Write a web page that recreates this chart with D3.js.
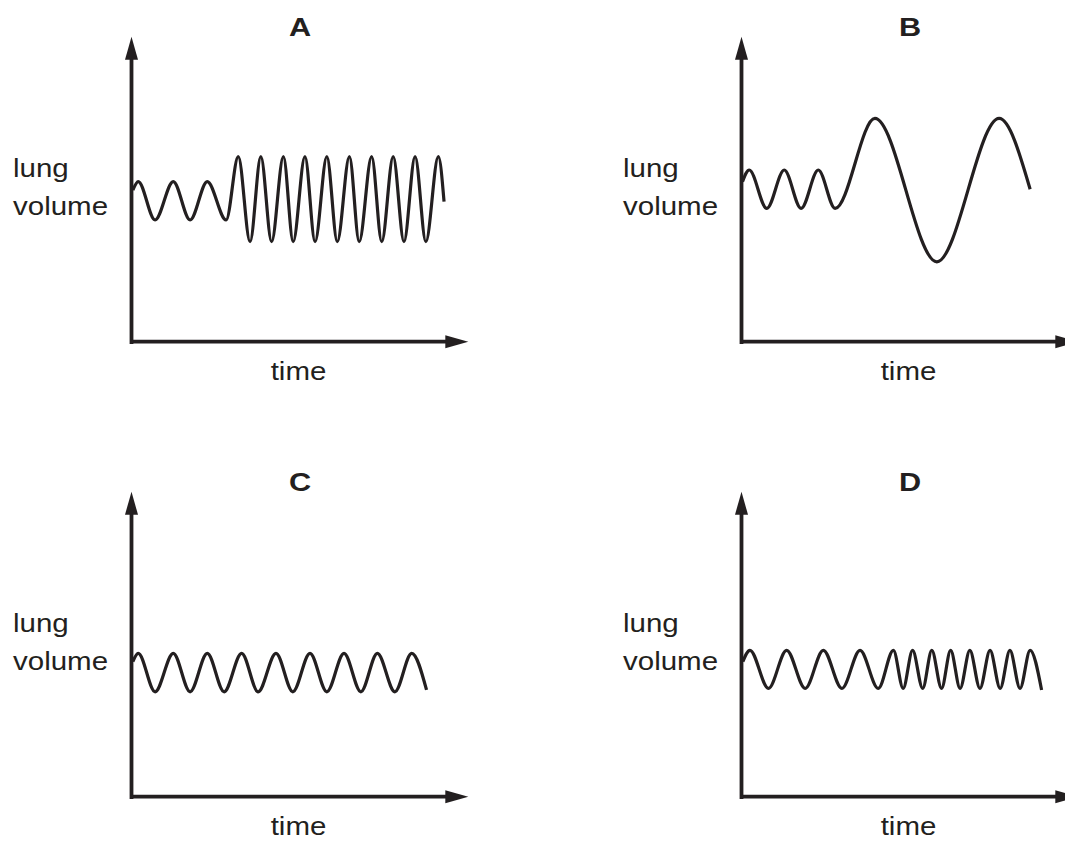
<!DOCTYPE html>
<html><head><meta charset="utf-8">
<script src="https://cdn.jsdelivr.net/npm/d3@7"></script>
<style>html,body{margin:0;padding:0;background:#fff;} svg{display:block}</style>
</head><body>
<svg id="chart" width="1065" height="841"></svg>
<script>
// ---- data (time and lung volume in arbitrary units 0-100) ----
const panelTitles = ["A", "B", "C", "D"];
const yAxisLabel = ["lung", "volume"];
const xAxisLabel = "time";

// turning points of each trace
const timeA   = [0.4, 2.0, 7.0, 12.4, 17.4, 22.5, 28.1, 31.7, 35.2, 38.4, 41.6, 45.1, 48.0, 51.5, 54.5, 58.0, 61.1, 64.7, 67.6, 71.3, 74.3, 77.7, 80.9, 84.2, 87.4, 91.1, 92.8];
const volumeA = [49.7, 52.5, 39.9, 52.5, 39.9, 52.5, 39.9, 60.7, 32.8, 60.7, 32.8, 60.7, 32.8, 60.7, 32.8, 60.7, 32.8, 60.7, 32.8, 60.7, 32.8, 60.7, 32.8, 60.7, 32.8, 60.7, 45.9];

const timeB   = [0.3, 2.3, 7.5, 12.7, 17.7, 22.8, 27.8, 39.6, 58.0, 76.5, 85.7];
const volumeB = [52.5, 56.3, 43.7, 56.3, 43.7, 56.3, 43.7, 73.2, 26.2, 73.2, 50.0];

const timeC   = [0.4, 2.0, 7.0, 12.4, 17.4, 22.5, 27.5, 32.7, 37.6, 42.9, 47.9, 53.0, 58.0, 63.1, 68.1, 73.0, 78.2, 83.2, 87.6];
const volumeC = [44.3, 47.0, 34.4, 47.0, 34.4, 47.0, 34.4, 47.0, 34.4, 47.0, 34.4, 47.0, 34.4, 47.0, 34.4, 47.0, 34.4, 47.0, 35.0];

const timeD   = [0.4, 2.5, 8.0, 13.4, 18.9, 24.3, 29.8, 35.2, 40.6, 45.1, 48.0, 50.8, 53.8, 56.5, 59.4, 62.1, 64.9, 67.8, 70.8, 73.8, 76.8, 79.7, 82.7, 85.7, 89.1];
const volumeD = [44.3, 48.0, 35.5, 48.0, 35.5, 48.0, 35.5, 48.0, 35.5, 48.0, 35.5, 48.0, 35.5, 48.0, 35.5, 48.0, 35.5, 48.0, 35.5, 48.0, 35.5, 48.0, 35.5, 48.0, 35.0];

const series = [[timeA, volumeA], [timeB, volumeB], [timeC, volumeC], [timeD, volumeD]];

// ---- layout ----
const layout = [
  {ox: 131.5, oy: 341.7},
  {ox: 741.5, oy: 341.7},
  {ox: 131.5, oy: 796.7},
  {ox: 741.5, oy: 796.7}
];
const W = 336.8, H = 305;
const ink = "#231f20";
const axW = 3.8, head = 23, hw = 6.5;
const font = "'Liberation Sans', Arial, Helvetica, sans-serif";
const stretch = 1.18;

const svg = d3.select("#chart");
const x = d3.scaleLinear().domain([0, 100]).range([0, W]);
const y = d3.scaleLinear().domain([0, 100]).range([H, 0]);
const line = d3.line().x(d => x(d[0])).y(d => y(d[1])).curve(d3.curveMonotoneX);

panelTitles.forEach((title, i) => {
  const {ox, oy} = layout[i];
  const g = svg.append("g").attr("transform", `translate(${ox},${oy - H})`);

  const xAxisScale = x.copy().range([-axW / 2, x.range()[1] - head + 4]);
  const yAxisScale = y.copy().range([y.range()[0] + axW / 2, y.range()[1] + head - 4]);

  g.append("g").attr("transform", `translate(0,${H - 0.5})`)
    .call(d3.axisBottom(xAxisScale).tickValues([]).tickSizeOuter(0))
    .call(a => a.select(".domain").attr("stroke", ink).attr("stroke-width", axW));
  g.append("g").attr("transform", `translate(-0.5,0)`)
    .call(d3.axisLeft(yAxisScale).tickValues([]).tickSizeOuter(0))
    .call(a => a.select(".domain").attr("stroke", ink).attr("stroke-width", axW));

  // arrow heads
  const xt = x.range()[1], yb = y.range()[0], yt = y.range()[1];
  g.append("path").attr("fill", ink)
    .attr("d", `M${xt},${yb}L${xt - head},${yb - hw}L${xt - head},${yb + hw}Z`);
  g.append("path").attr("fill", ink)
    .attr("d", `M0,${yt}L${-hw},${yt + head}L${hw},${yt + head}Z`);

  // trace
  const [t, v] = series[i];
  g.append("path").datum(d3.zip(t, v))
    .attr("fill", "none").attr("stroke", ink).attr("stroke-width", 3.2)
    .attr("stroke-linejoin", "round")
    .attr("d", line);

  // title
  g.append("text")
    .attr("transform", `translate(168.5,${H - 305.7}) scale(${stretch},1)`)
    .attr("text-anchor", "middle").attr("font-family", font).attr("font-weight", "bold")
    .attr("font-size", 26).attr("fill", ink).text(title);

  // y label
  yAxisLabel.forEach((s, k) => {
    g.append("text")
      .attr("transform", `translate(-118.5,${H - 164.7 + k * 38}) scale(${stretch},1)`)
      .attr("font-family", font).attr("font-size", 25).attr("fill", ink).text(s);
  });

  // x label
  g.append("text")
    .attr("transform", `translate(167,${H + 38.3}) scale(${stretch},1)`)
    .attr("text-anchor", "middle").attr("font-family", font)
    .attr("font-size", 25).attr("fill", ink).text(xAxisLabel);
});
</script>
</body></html>
